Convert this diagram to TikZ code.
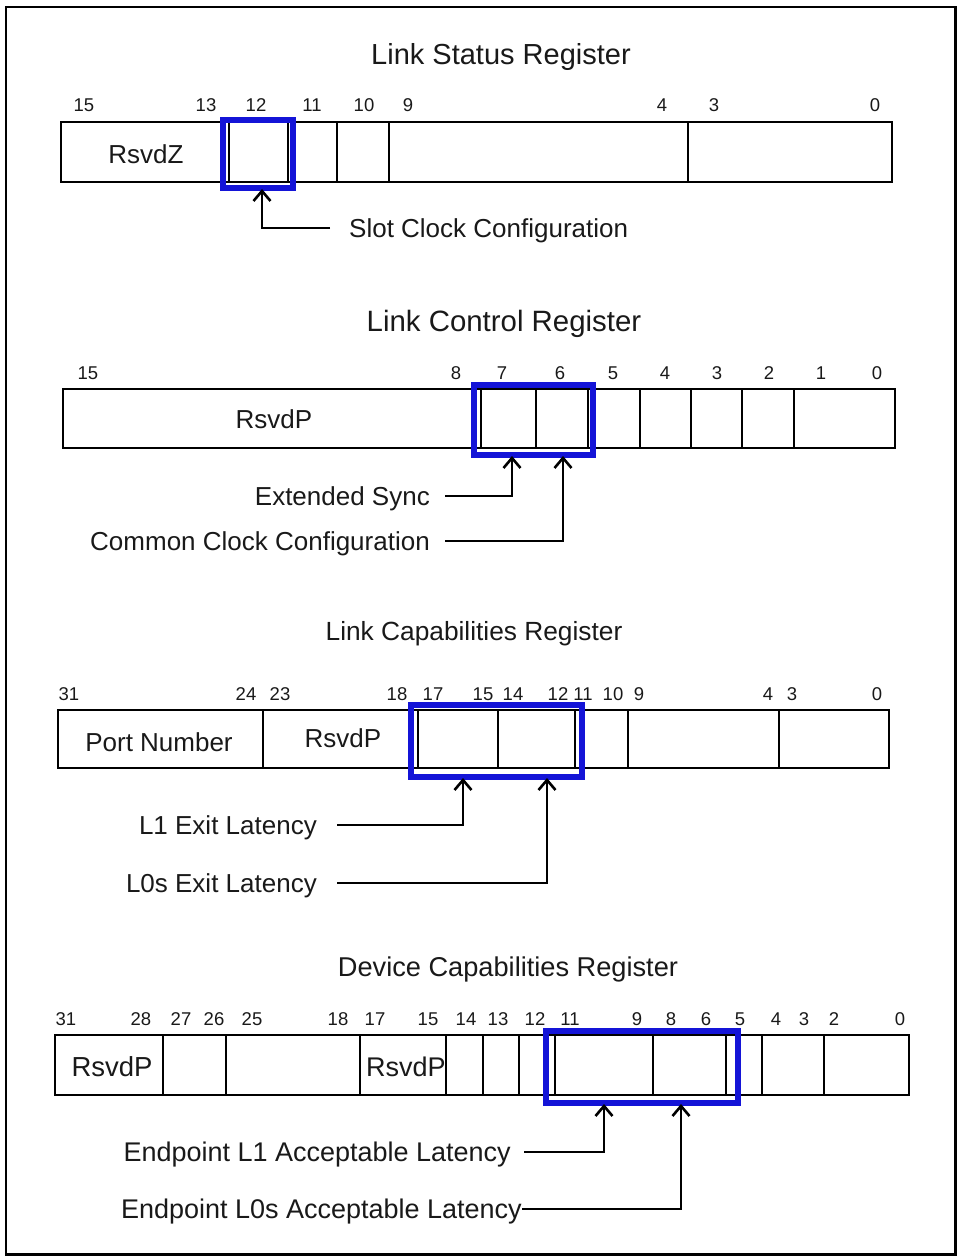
\documentclass[tikz,border=0pt]{standalone}
\usepackage{fontspec}
\setmainfont{Liberation Sans}
\usetikzlibrary{arrows.meta}
\definecolor{hlblue}{RGB}{20,20,215}
\definecolor{inktext}{RGB}{25,25,25}
\begin{document}
\begin{tikzpicture}[x=1pt,y=-1pt,
  regbox/.style={draw=black,line width=2.2pt,inner sep=0pt,outer sep=0pt,anchor=north west},
  divline/.style={draw=black,line width=2pt},
  hlbox/.style={draw=hlblue,line width=6pt,inner sep=0pt,outer sep=0pt,anchor=north west},
  title/.style={font=\fontsize{29}{31}\selectfont,anchor=base,inner sep=0pt,text=inktext},
  bitnum/.style={font=\fontsize{18.5}{20}\selectfont,anchor=base,inner sep=0pt,text=inktext},
  celltxt/.style={font=\fontsize{26}{28}\selectfont,anchor=base,inner sep=0pt,text=inktext},
  lbl/.style={font=\fontsize{26}{28}\selectfont,anchor=base east,inner sep=0pt,text=inktext},
  biglbl/.style={lbl,font=\fontsize{27}{29}\selectfont},
  conn/.style={draw=black,line width=2pt,-{Straight Barb[length=10pt,width=17pt,line width=2.6pt]}},
]
\useasboundingbox (0,0) rectangle (961,1260);
% outer frame
\draw[line width=2pt] (6,7.5) rectangle (955.5,1254);
\draw[line width=3pt] (955.5,6.5) -- (955.5,1254) -- (4.5,1254);

% ---------------- Link Status Register ----------------
\node[title] (ttl1) at (501,65) {Link Status Register};
\node[regbox,minimum width=831pt,minimum height=60pt] (reg1) at (61,122) {};
\foreach \x in {229,288,337,389,688} \draw[divline] (\x,122) -- (\x,182);
\foreach \x/\b in {84/15,206/13,256/12,312/11,364/10,408/9,662/4,714/3,875/0}
  \node[bitnum] (b1-\b) at (\x,112) {\b};
\node[celltxt] (rz1) at (146,164) {RsvdZ};
\node[hlbox,minimum width=70pt,minimum height=68pt] (hl1) at (223,120) {};
\node[font=\fontsize{26}{28}\selectfont,anchor=base west,inner sep=0pt,text=inktext] (slot) at (349,237) {Slot Clock Configuration};
\coordinate (t1) at (262,189);
\draw[conn] ([shift={(-19,-9)}]slot.base west) -| (t1);

% ---------------- Link Control Register ----------------
\node[title,font=\fontsize{29.4}{31}\selectfont] (ttl2) at (504,331) {Link Control Register};
\node[regbox,minimum width=832pt,minimum height=59pt] (reg2) at (63,389) {};
\foreach \x in {481,536,588,640,691,742,794} \draw[divline] (\x,389) -- (\x,448);
\foreach \x/\b in {88/15,456/8,502/7,560/6,613/5,665/4,717/3,769/2,821/1,877/0}
  \node[bitnum] (b2-\b) at (\x,379) {\b};
\node[celltxt] (rp2) at (274,428) {RsvdP};
\node[hlbox,minimum width=119pt,minimum height=70pt] (hl2) at (474,385) {};
\node[lbl] (esync) at (430,505) {Extended Sync};
\node[lbl] (ccc) at (430,550) {Common Clock Configuration};
\coordinate (t2a) at (512,456);
\coordinate (t2b) at (563,456);
\draw[conn] ([shift={(15,-9)}]esync.base east) -| (t2a);
\draw[conn] ([shift={(15,-9)}]ccc.base east) -| (t2b);

% ---------------- Link Capabilities Register ----------------
\node[title,font=\fontsize{26.3}{28}\selectfont] (ttl3) at (474,640) {Link Capabilities Register};
\node[regbox,minimum width=831pt,minimum height=58pt] (reg3) at (58,710) {};
\foreach \x in {263,417.5,498,574.5,628,779} \draw[divline] (\x,710) -- (\x,768);
\foreach \x/\b in {69/31,246/24,280/23,397/18,433/17,483/15,513/14,558/12,583/11,613/10,639/9,768/4,792/3,877/0}
  \node[bitnum] (b3-\b) at (\x,700) {\b};
\node[celltxt] (pn3) at (159,751) {Port Number};
\node[celltxt] (rp3) at (343,747) {RsvdP};
\node[hlbox,minimum width=171pt,minimum height=72pt] (hl3) at (411,705) {};
\node[lbl] (l1ex) at (317,834) {L1 Exit Latency};
\node[lbl] (l0ex) at (317,892) {L0s Exit Latency};
\coordinate (t3a) at (463,778);
\coordinate (t3b) at (547,778);
\draw[conn] ([shift={(20,-9)}]l1ex.base east) -| (t3a);
\draw[conn] ([shift={(20,-9)}]l0ex.base east) -| (t3b);

% ---------------- Device Capabilities Register ----------------
\node[title,font=\fontsize{27.2}{29}\selectfont] (ttl4) at (508,976) {Device Capabilities Register};
\node[regbox,minimum width=854pt,minimum height=60pt] (reg4) at (55,1035) {};
\foreach \x in {163,225.5,360,445.5,482.5,519,555,652.5,726,761.5,824} \draw[divline] (\x,1035) -- (\x,1095);
\foreach \x/\b in {66/31,141/28,181/27,214/26,252/25,338/18,375/17,428/15,466/14,498/13,535/12,570/11,637/9,671/8,706/6,740/5,776/4,804/3,834/2,900/0}
  \node[bitnum] (b4-\b) at (\x,1025) {\b};
\node[celltxt,font=\fontsize{27.5}{29}\selectfont] (rp4a) at (112,1076) {RsvdP};
\node[celltxt,font=\fontsize{27}{29}\selectfont,anchor=base west] (rp4b) at (366,1076) {RsvdP};
\node[hlbox,minimum width=191.5pt,minimum height=72pt] (hl4) at (546,1031) {};
\node[biglbl] (epl1) at (511,1161) {Endpoint L1 Acceptable Latency};
\node[biglbl] (epl0) at (522,1218) {Endpoint L0s Acceptable Latency};
\coordinate (t4a) at (604,1104);
\coordinate (t4b) at (681,1104);
\draw[conn] ([shift={(13,-9)}]epl1.base east) -| (t4a);
\draw[conn] ([shift={(0,-9)}]epl0.base east) -| (t4b);
\end{tikzpicture}
\end{document}
